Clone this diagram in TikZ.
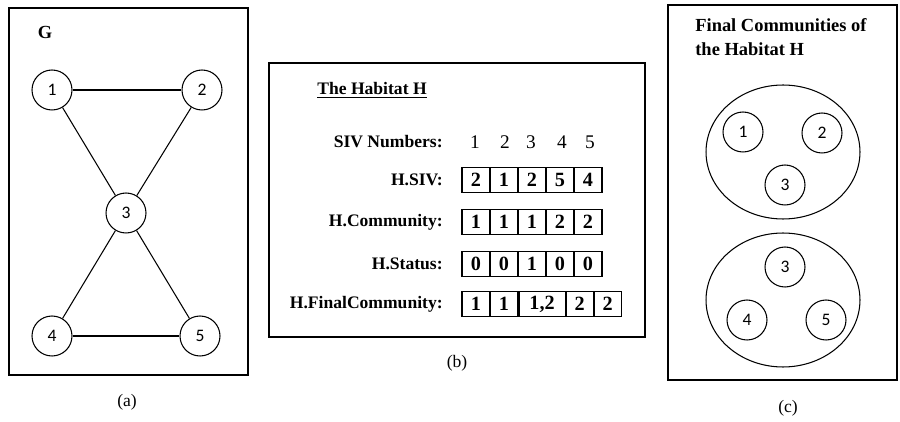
\documentclass[tikz,border=0pt]{standalone}
\usepackage{fontspec}
\setmainfont{Liberation Serif}
\newfontfamily\calfont{Carlito}
\usetikzlibrary{positioning}

\tikzset{
    panel/.style={draw, line width=1.2pt},
    vertex/.style={draw, circle, minimum size=0.8cm, inner sep=0pt, line width=0.6pt, font=\calfont\fontsize{10}{12}\selectfont},
    edge/.style={line width=0.6pt},
    cell/.style={draw, minimum width=0.56cm, minimum height=0.5cm, inner sep=0pt, line width=0.6pt, font=\bfseries\fontsize{11.5}{13}\selectfont},
    rowlabel/.style={anchor=east, inner sep=0pt, font=\bfseries\fontsize{10}{12}\selectfont},
    heading/.style={font=\bfseries\fontsize{10.5}{14}\selectfont},
    caption/.style={font=\fontsize{10}{12}\selectfont}
}

\begin{document}
\begin{tikzpicture}[x=0.02cm, y=-0.02cm]
    \useasboundingbox (0,0) rectangle (900,422);
    % Panel (a): the graph G
    \draw [panel] (9,8) rectangle (248,375);
    \node [heading] (gname) at (45,32) {G};
    \node [vertex] (a1) at (52,90) {1};
    \node [vertex] (a2) at (202,90) {2};
    \node [vertex] (a3) at (126,213) {3};
    \node [vertex] (a4) at (52,336) {4};
    \node [vertex] (a5) at (200,336) {5};
    \draw [edge] (a1) -- (a2);
    \draw [edge] (a1) -- (a3);
    \draw [edge] (a2) -- (a3);
    \draw [edge] (a3) -- (a4);
    \draw [edge] (a3) -- (a5);
    \draw [edge] (a4) -- (a5);
    \node [caption] (capa) at (127,402) {(a)};
    % Panel (b): the habitat arrays
    \draw [panel] (269,63) rectangle (645,337);
    \node [heading, font=\bfseries\fontsize{10}{12}\selectfont] (htitle) at (372,90) {\underline{The Habitat H}};
    \node [rowlabel] (lnum) at (443,142) {SIV Numbers:};
    \node [rowlabel] (lsiv) at (443,180) {H.SIV:};
    \node [rowlabel] (lcom) at (443,222) {H.Community:};
    \node [rowlabel] (lsta) at (443,264) {H.Status:};
    \node [rowlabel] (lfin) at (443,304) {H.FinalCommunity:};
    % SIV numbers
    \node [font=\fontsize{11}{13}\selectfont] (n1) at (475,142) {1};
    \node [font=\fontsize{11}{13}\selectfont] (n2) at (505,142) {2};
    \node [font=\fontsize{11}{13}\selectfont] (n3) at (531,142) {3};
    \node [font=\fontsize{11}{13}\selectfont] (n4) at (562,142) {4};
    \node [font=\fontsize{11}{13}\selectfont] (n5) at (590,142) {5};
    % H.SIV
    \node [cell] (s1) at (476,180) {2};
    \node [cell] (s2) at (504,180) {1};
    \node [cell] (s3) at (532,180) {2};
    \node [cell] (s4) at (560,180) {5};
    \node [cell] (s5) at (588,180) {4};
    % H.Community
    \node [cell] (c1) at (476,222) {1};
    \node [cell] (c2) at (504,222) {1};
    \node [cell] (c3) at (532,222) {1};
    \node [cell] (c4) at (560,222) {2};
    \node [cell] (c5) at (588,222) {2};
    % H.Status
    \node [cell] (t1) at (476,264) {0};
    \node [cell] (t2) at (504,264) {0};
    \node [cell] (t3) at (532,264) {1};
    \node [cell] (t4) at (560,264) {0};
    \node [cell] (t5) at (588,264) {0};
    % H.FinalCommunity
    \node [cell] (f1) at (476,304) {1};
    \node [cell] (f2) at (504,304) {1};
    \node [cell, minimum width=0.92cm, right=0pt of f2] (f3) {1,2};
    \node [cell, minimum width=0.54cm, right=0pt of f3] (f4) {2};
    \node [cell, minimum width=0.54cm, right=0pt of f4] (f5) {2};
    \node [caption] (capb) at (457,363) {(b)};
    % Panel (c): final communities
    \draw [panel] (668,5) rectangle (897,380);
    \node [heading, anchor=north west, align=left, inner sep=0pt] (ctitle) at (695,18) {Final Communities of\\the Habitat H};
    \draw [edge] (783,152) ellipse [x radius=1.54cm, y radius=1.34cm];
    \node [vertex] (p1) at (743,132) {1};
    \node [vertex] (p2) at (822,133) {2};
    \node [vertex] (p3) at (785,185) {3};
    \draw [edge] (783,300) ellipse [x radius=1.54cm, y radius=1.34cm];
    \node [vertex] (q3) at (785,267) {3};
    \node [vertex] (q4) at (747,320) {4};
    \node [vertex] (q5) at (826,320) {5};
    \node [caption] (capc) at (788,408) {(c)};
\end{tikzpicture}
\end{document}
